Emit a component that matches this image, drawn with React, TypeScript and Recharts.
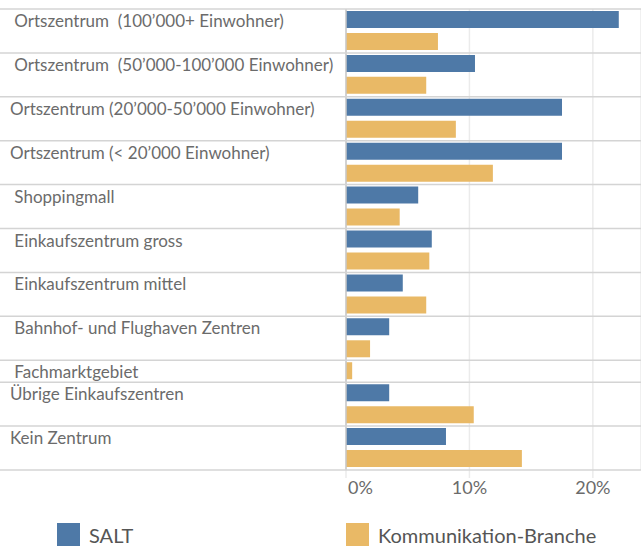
import { Bar, BarChart, CartesianGrid, ReferenceLine, XAxis, YAxis } from "recharts";

// Standort-Typen (leading / double spaces as in the source labels)
const categories = [
    "\u00a0Ortszentrum\u00a0 (100’000+ Einwohner)",
    "\u00a0Ortszentrum\u00a0 (50’000-100’000 Einwohner)",
    "Ortszentrum (20’000-50’000 Einwohner)",
    "Ortszentrum (< 20’000 Einwohner)",
    "\u00a0Shoppingmall",
    "\u00a0Einkaufszentrum gross",
    "\u00a0Einkaufszentrum mittel",
    "\u00a0Bahnhof- und Flughaven Zentren",
    "\u00a0Fachmarktgebiet",
    "Übrige Einkaufszentren",
    "Kein Zentrum",
];

// share in percent, null = no bar
const saltShare = [22.1, 10.45, 17.5, 17.5, 5.85, 6.95, 4.6, 3.5, null, 3.5, 8.1];
const brancheShare = [7.45, 6.5, 8.9, 11.9, 4.35, 6.75, 6.5, 1.95, 0.5, 10.35, 14.25];

const seriesNames = ["SALT", "Kommunikation-Branche"];
const seriesColors = ["#4e79a7", "#e9b966"];
const xTicks = [0, 10, 20];

const W = 641;
const H = 546;
const FONT = "Lato, 'Open Sans', sans-serif";

// one slot per bar, so a row with a single bar is half as tall
type Slot = { slot: string; label: string; first: boolean; last: boolean; salt?: number; branche?: number };
const slots: Slot[] = [];
categories.forEach((label, i) => {
    const s = saltShare[i];
    if (s !== null) slots.push({ slot: `${i}-s`, label, first: true, last: false, salt: s });
    slots.push({ slot: `${i}-b`, label, first: s === null, last: false, branche: brancheShare[i] });
});
slots[slots.length - 1].last = true;

const plotTop = 9;
const plotBottom = 470;
const bandHalf = (plotBottom - plotTop) / slots.length / 2;

function RowTick(props: any) {
    const { y, payload } = props;
    const s = slots.find((d) => d.slot === payload.value);
    if (!s) return null;
    const half = payload.offset || bandHalf;
    return (
        <g>
            {s.first && (
                <line x1={0} x2={W} y1={y - half} y2={y - half} stroke="#d4d4d4" strokeWidth={1.5} />
            )}
            {s.last && <line x1={0} x2={W} y1={y + half} y2={y + half} stroke="#d4d4d4" strokeWidth={1.5} />}
            {s.first && (
                <text x={10} y={y + 7} fill="#6b6b6b" fontSize={17} style={{ fontFamily: FONT }}>
                    {s.label}
                </text>
            )}
        </g>
    );
}

function PercentTick(props: any) {
    const { x, y, payload } = props;
    const isZero = payload.value === 0;
    return (
        <text
            x={isZero ? x + 2 : x}
            y={y + 14}
            textAnchor={isZero ? "start" : "middle"}
            fill="#6b6b6b"
            fontSize={18}
            style={{ fontFamily: FONT }}
        >
            {payload.value}%
        </text>
    );
}

export default function App()
{
    return (
        <div style={{ position: "relative", width: W, height: H, fontFamily: FONT }}>
            <style>{"body{margin:0}"}</style>
            <BarChart
                width={W}
                height={H}
                data={slots}
                layout="vertical"
                margin={{ top: plotTop, right: 0, bottom: H - plotBottom - 40, left: 0 }}
            >
                <CartesianGrid horizontal={false} stroke="#ebebeb" strokeWidth={1.5} />
                <XAxis
                    type="number"
                    domain={[0, 23.9]}
                    ticks={xTicks}
                    height={40}
                    axisLine={false}
                    tickLine={{ stroke: "#ebebeb", strokeWidth: 1.5 }}
                    tickSize={8}
                    tick={<PercentTick />}
                    allowDataOverflow
                />
                <YAxis
                    type="category"
                    dataKey="slot"
                    width={346}
                    axisLine={false}
                    tickLine={false}
                    interval={0}
                    tick={<RowTick />}
                />
                <ReferenceLine x={0} stroke="#c8c8c8" strokeWidth={1.5} />
                <Bar dataKey="salt" stackId="a" fill={seriesColors[0]} barSize={17} isAnimationActive={false} />
                <Bar dataKey="branche" stackId="a" fill={seriesColors[1]} barSize={17} isAnimationActive={false} />
            </BarChart>
            {seriesNames.map((name, i) => (
                <div
                    key={name}
                    style={{
                        position: "absolute",
                        left: i === 0 ? 57 : 346,
                        top: 523,
                        display: "flex",
                        alignItems: "center",
                        fontSize: 20,
                        lineHeight: 1,
                        color: "#555",
                    }}
                >
                    <span style={{ width: 23, height: 23, background: seriesColors[i], marginRight: 9 }} />
                    <span>{name}</span>
                </div>
            ))}
        </div>
    );
}
